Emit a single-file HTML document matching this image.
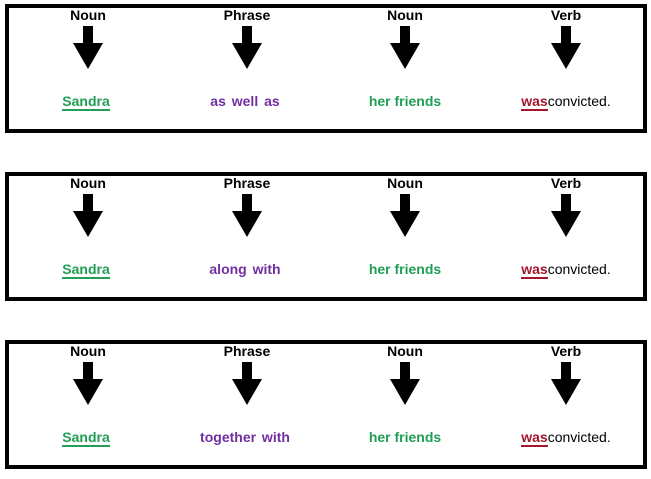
<!DOCTYPE html>
<html><head><style>
body{margin:0;width:651px;height:479px;background:#fff;position:relative;overflow:hidden;font-family:"Liberation Sans",Arial,sans-serif}
.box{position:absolute;left:5px;width:634px;height:121px;border:4px solid #000}
.lab{position:absolute;top:-1px;width:100px;margin-left:-50px;text-align:center;font-weight:bold;font-size:14px;color:#000}
.arr{position:absolute;top:18px;margin-left:-15px;width:30px;height:43px}
.w{position:absolute;top:85px;width:160px;margin-left:-80px;text-align:center;font-weight:bold;font-size:14px}
.w u{text-decoration:none;border-bottom:2px solid currentColor;padding-bottom:0}
.g{color:#1f9e55}.p{color:#7030a0;word-spacing:2px}.r{color:#a3162b}
</style></head><body>
<div class="box" style="top:4px">
<div class="lab" style="left:79px">Noun</div><div class="lab" style="left:238px">Phrase</div><div class="lab" style="left:396px">Noun</div><div class="lab" style="left:557px">Verb</div>
<svg class="arr" style="left:79px" viewBox="0 0 30 43"><polygon points="10,0 20,0 20,17 30,17 15,43 0,17 10,17"/></svg>
<svg class="arr" style="left:238px" viewBox="0 0 30 43"><polygon points="10,0 20,0 20,17 30,17 15,43 0,17 10,17"/></svg>
<svg class="arr" style="left:396px" viewBox="0 0 30 43"><polygon points="10,0 20,0 20,17 30,17 15,43 0,17 10,17"/></svg>
<svg class="arr" style="left:557px" viewBox="0 0 30 43"><polygon points="10,0 20,0 20,17 30,17 15,43 0,17 10,17"/></svg>
<div class="w g" style="left:77px"><u>Sandra</u></div>
<div class="w p" style="left:236px">as well as</div>
<div class="w g" style="left:396px">her friends</div>
<div class="w" style="left:557px"><u class="r">was</u><span style="font-weight:normal">convicted.</span></div>
</div>
<div class="box" style="top:172px">
<div class="lab" style="left:79px">Noun</div><div class="lab" style="left:238px">Phrase</div><div class="lab" style="left:396px">Noun</div><div class="lab" style="left:557px">Verb</div>
<svg class="arr" style="left:79px" viewBox="0 0 30 43"><polygon points="10,0 20,0 20,17 30,17 15,43 0,17 10,17"/></svg>
<svg class="arr" style="left:238px" viewBox="0 0 30 43"><polygon points="10,0 20,0 20,17 30,17 15,43 0,17 10,17"/></svg>
<svg class="arr" style="left:396px" viewBox="0 0 30 43"><polygon points="10,0 20,0 20,17 30,17 15,43 0,17 10,17"/></svg>
<svg class="arr" style="left:557px" viewBox="0 0 30 43"><polygon points="10,0 20,0 20,17 30,17 15,43 0,17 10,17"/></svg>
<div class="w g" style="left:77px"><u>Sandra</u></div>
<div class="w p" style="left:236px">along with</div>
<div class="w g" style="left:396px">her friends</div>
<div class="w" style="left:557px"><u class="r">was</u><span style="font-weight:normal">convicted.</span></div>
</div>
<div class="box" style="top:340px">
<div class="lab" style="left:79px">Noun</div><div class="lab" style="left:238px">Phrase</div><div class="lab" style="left:396px">Noun</div><div class="lab" style="left:557px">Verb</div>
<svg class="arr" style="left:79px" viewBox="0 0 30 43"><polygon points="10,0 20,0 20,17 30,17 15,43 0,17 10,17"/></svg>
<svg class="arr" style="left:238px" viewBox="0 0 30 43"><polygon points="10,0 20,0 20,17 30,17 15,43 0,17 10,17"/></svg>
<svg class="arr" style="left:396px" viewBox="0 0 30 43"><polygon points="10,0 20,0 20,17 30,17 15,43 0,17 10,17"/></svg>
<svg class="arr" style="left:557px" viewBox="0 0 30 43"><polygon points="10,0 20,0 20,17 30,17 15,43 0,17 10,17"/></svg>
<div class="w g" style="left:77px"><u>Sandra</u></div>
<div class="w p" style="left:236px">together with</div>
<div class="w g" style="left:396px">her friends</div>
<div class="w" style="left:557px"><u class="r">was</u><span style="font-weight:normal">convicted.</span></div>
</div>
</body></html>
